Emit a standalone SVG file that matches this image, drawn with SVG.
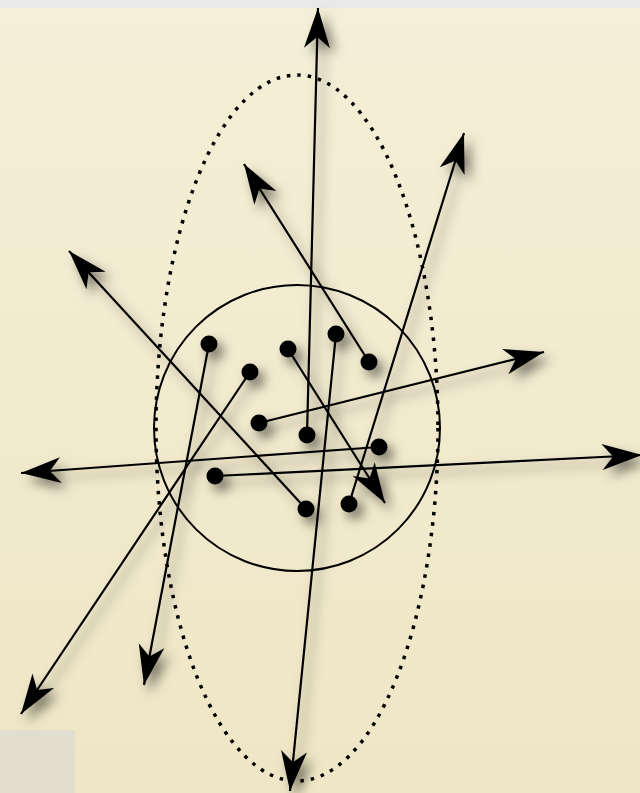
<svg xmlns="http://www.w3.org/2000/svg" width="640" height="793" viewBox="0 0 640 793">
<style>
.ln{stroke:#000;stroke-width:2.2;fill:none;marker-end:url(#ah)}
.dot{fill:#000}
.sh{filter:url(#shadow)}
</style>
<defs>
<marker id="ah" markerUnits="userSpaceOnUse" viewBox="-42 -14 44 28" markerWidth="44" markerHeight="28" refX="0" refY="0" orient="auto">
<path d="M0,0 L-40,-13 L-29,0 L-40,13 Z" fill="#000"/>
</marker>
<filter id="shadow" x="-20%" y="-20%" width="140%" height="140%">
<feDropShadow dx="6" dy="7" stdDeviation="6" flood-color="#000" flood-opacity="0.5"/>
</filter>
<linearGradient id="bg" x1="0" y1="0" x2="0" y2="1">
<stop offset="0" stop-color="#f4efd7"/>
<stop offset="1" stop-color="#efe6c5"/>
</linearGradient>
</defs>
<rect x="0" y="0" width="640" height="793" fill="url(#bg)"/>
<rect x="0" y="0" width="640" height="8" fill="#e9e9e9"/>
<rect x="0" y="730" width="75" height="63" fill="#e1ddcf"/>
<g id="ellipse">
<ellipse cx="297" cy="428" rx="141" ry="353" fill="none" stroke="#000" stroke-width="3.5" stroke-dasharray="3.5 7"/>
</g>
<g id="circle">
<circle cx="297" cy="428" r="143" fill="none" stroke="#000" stroke-width="2"/>
</g>
<g id="connectors" class="sh">
<line class="ln" x1="209" y1="344" x2="144" y2="685"/>
<line class="ln" x1="250" y1="372" x2="21" y2="714"/>
<line class="ln" x1="288" y1="349" x2="385" y2="503"/>
<line class="ln" x1="336" y1="334" x2="290" y2="791"/>
<line class="ln" x1="369" y1="362" x2="244" y2="164"/>
<line class="ln" x1="259" y1="423" x2="544" y2="352"/>
<line class="ln" x1="307" y1="435" x2="318" y2="8"/>
<line class="ln" x1="379" y1="447" x2="21" y2="473"/>
<line class="ln" x1="215" y1="476" x2="642" y2="455"/>
<line class="ln" x1="306" y1="509" x2="69" y2="251"/>
<line class="ln" x1="349" y1="504" x2="464" y2="133"/>
</g>
<g class="sh">
<g id="n1"><circle class="dot" cx="209" cy="344" r="8.5"/></g>
<g id="n2"><circle class="dot" cx="250" cy="372" r="8.5"/></g>
<g id="n3"><circle class="dot" cx="288" cy="349" r="8.5"/></g>
<g id="n4"><circle class="dot" cx="336" cy="334" r="8.5"/></g>
<g id="n5"><circle class="dot" cx="369" cy="362" r="8.5"/></g>
<g id="n6"><circle class="dot" cx="259" cy="423" r="8.5"/></g>
<g id="n7"><circle class="dot" cx="307" cy="435" r="8.5"/></g>
<g id="n8"><circle class="dot" cx="379" cy="447" r="8.5"/></g>
<g id="n9"><circle class="dot" cx="215" cy="476" r="8.5"/></g>
<g id="n10"><circle class="dot" cx="306" cy="509" r="8.5"/></g>
<g id="n11"><circle class="dot" cx="349" cy="504" r="8.5"/></g>
</g>
</svg>
